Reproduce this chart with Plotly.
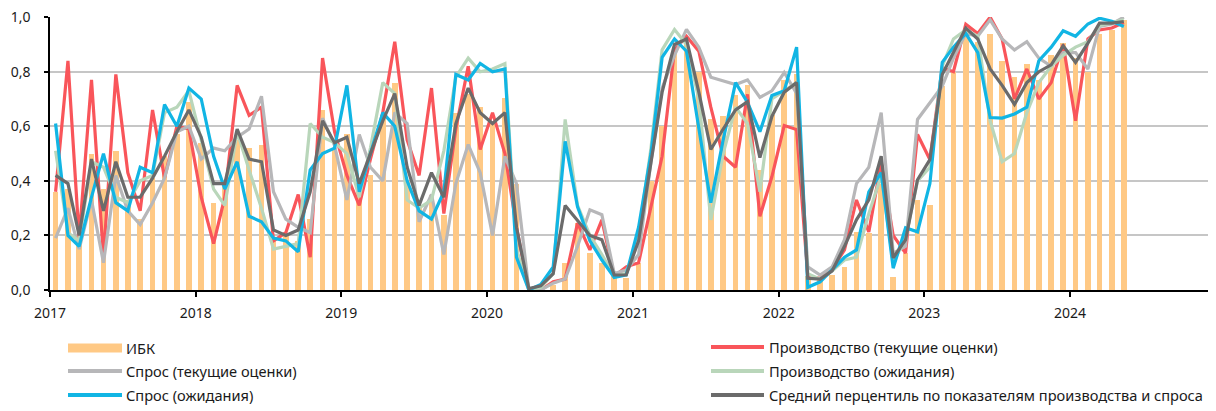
import pandas as pd
import plotly.graph_objects as go

# Monthly observations, Jan 2017 - May 2024
months = (pd.date_range("2017-01-01", periods=89, freq="MS") + pd.Timedelta(days=14)).strftime("%Y-%m-%d").tolist()

ibk = [0.36, 0.37, 0.20, 0.50, 0.37, 0.51, 0.33, 0.26, 0.41, 0.49, 0.57, 0.69,
       0.54, 0.32, 0.40, 0.55, 0.52, 0.53, 0.18, 0.20, 0.18, 0.26, 0.66, 0.52,
       0.57, 0.37, 0.42, 0.64, 0.76, 0.40, 0.30, 0.35, 0.276, 0.65, 0.72, 0.67,
       0.62, 0.705, 0.39, 0.00, 0.00, 0.02, 0.10, 0.245, 0.135, 0.10, 0.067, 0.044,
       0.10, 0.40, 0.60, 0.87, 0.90, 0.80, 0.625, 0.636, 0.713, 0.75, 0.44, 0.64,
       0.77, 0.79, 0.05, 0.04, 0.055, 0.085, 0.213, 0.21, 0.39, 0.048, 0.135, 0.33,
       0.31, 0.747, 0.80, 0.93, 0.91, 0.94, 0.84, 0.78, 0.83, 0.77, 0.86, 0.905,
       0.85, 0.80, 0.94, 0.953, 0.99]

prod_current = [0.36, 0.84, 0.19, 0.77, 0.12, 0.79, 0.43, 0.29, 0.66, 0.41, 0.60, 0.59,
                0.34, 0.17, 0.34, 0.75, 0.64, 0.67, 0.18, 0.21, 0.35, 0.12, 0.85, 0.58,
                0.42, 0.31, 0.48, 0.65, 0.91, 0.55, 0.42, 0.74, 0.28, 0.59, 0.82, 0.515,
                0.65, 0.50, 0.23, 0.00, 0.00, 0.03, 0.04, 0.245, 0.147, 0.257, 0.05, 0.085,
                0.10, 0.305, 0.49, 0.88, 0.93, 0.875, 0.67, 0.49, 0.45, 0.717, 0.27, 0.415,
                0.603, 0.588, 0.05, 0.043, 0.076, 0.147, 0.33, 0.213, 0.467, 0.20, 0.135, 0.57,
                0.478, 0.815, 0.80, 0.974, 0.94, 1.00, 0.92, 0.70, 0.81, 0.70, 0.76, 0.90,
                0.62, 0.92, 0.953, 0.96, 0.98]

demand_current = [0.19, 0.30, 0.15, 0.33, 0.10, 0.42, 0.29, 0.24, 0.32, 0.41, 0.58, 0.60,
                  0.48, 0.52, 0.51, 0.56, 0.59, 0.71, 0.36, 0.26, 0.23, 0.21, 0.63, 0.53,
                  0.33, 0.57, 0.45, 0.40, 0.65, 0.61, 0.25, 0.35, 0.13, 0.39, 0.533, 0.43,
                  0.20, 0.49, 0.39, 0.00, 0.00, 0.025, 0.04, 0.16, 0.294, 0.276, 0.06, 0.073,
                  0.13, 0.47, 0.74, 0.86, 0.955, 0.89, 0.78, 0.765, 0.753, 0.77, 0.706, 0.73,
                  0.797, 0.72, 0.085, 0.055, 0.085, 0.184, 0.39, 0.45, 0.65, 0.135, 0.16, 0.625,
                  0.687, 0.747, 0.85, 0.94, 0.93, 0.99, 0.92, 0.88, 0.91, 0.85, 0.82, 0.87,
                  0.87, 0.81, 0.966, 0.975, 1.00]

prod_expect = [0.51, 0.21, 0.18, 0.47, 0.45, 0.34, 0.32, 0.40, 0.42, 0.65, 0.67, 0.73,
               0.55, 0.37, 0.31, 0.58, 0.44, 0.30, 0.15, 0.16, 0.17, 0.61, 0.56, 0.54,
               0.50, 0.34, 0.52, 0.76, 0.72, 0.33, 0.30, 0.33, 0.51, 0.78, 0.85, 0.80,
               0.81, 0.83, 0.15, 0.00, 0.01, 0.06, 0.625, 0.31, 0.20, 0.13, 0.05, 0.06,
               0.20, 0.52, 0.88, 0.955, 0.90, 0.70, 0.257, 0.50, 0.67, 0.61, 0.36, 0.70,
               0.73, 0.76, 0.06, 0.04, 0.07, 0.11, 0.12, 0.28, 0.42, 0.10, 0.19, 0.40,
               0.45, 0.82, 0.92, 0.953, 0.93, 0.62, 0.47, 0.50, 0.65, 0.76, 0.82, 0.86,
               0.89, 0.91, 0.97, 0.98, 0.99]

demand_expect = [0.61, 0.20, 0.16, 0.34, 0.50, 0.32, 0.29, 0.45, 0.43, 0.68, 0.60, 0.74,
                 0.70, 0.49, 0.37, 0.47, 0.27, 0.25, 0.19, 0.18, 0.14, 0.44, 0.50, 0.52,
                 0.75, 0.36, 0.50, 0.65, 0.60, 0.40, 0.29, 0.26, 0.36, 0.79, 0.77, 0.83,
                 0.80, 0.81, 0.12, 0.00, 0.02, 0.085, 0.545, 0.305, 0.18, 0.11, 0.046, 0.055,
                 0.23, 0.50, 0.853, 0.92, 0.875, 0.59, 0.32, 0.55, 0.76, 0.687, 0.58, 0.713,
                 0.73, 0.89, 0.01, 0.03, 0.073, 0.12, 0.147, 0.36, 0.43, 0.08, 0.228, 0.213,
                 0.39, 0.834, 0.89, 0.94, 0.87, 0.632, 0.63, 0.645, 0.67, 0.84, 0.89, 0.95,
                 0.93, 0.975, 0.996, 0.985, 0.966]

avg_percentile = [0.42, 0.39, 0.20, 0.48, 0.29, 0.47, 0.34, 0.34, 0.41, 0.49, 0.58, 0.66,
                  0.56, 0.39, 0.39, 0.59, 0.48, 0.47, 0.22, 0.20, 0.22, 0.36, 0.62, 0.54,
                  0.56, 0.39, 0.50, 0.62, 0.72, 0.45, 0.31, 0.43, 0.34, 0.61, 0.74, 0.65,
                  0.61, 0.65, 0.23, 0.005, 0.015, 0.06, 0.31, 0.257, 0.20, 0.184, 0.055, 0.055,
                  0.18, 0.467, 0.725, 0.90, 0.92, 0.725, 0.515, 0.59, 0.66, 0.69, 0.485, 0.636,
                  0.725, 0.76, 0.043, 0.04, 0.07, 0.16, 0.257, 0.33, 0.49, 0.118, 0.184, 0.404,
                  0.478, 0.79, 0.87, 0.96, 0.92, 0.81, 0.75, 0.68, 0.76, 0.80, 0.825, 0.895,
                  0.834, 0.905, 0.978, 0.978, 0.984]

year_labels = ["2017", "2018", "2019", "2020", "2021", "2022", "2023", "2024"]
year_ticks = [y + "-01-01" for y in year_labels]
y_ticks = [0.0, 0.2, 0.4, 0.6, 0.8, 1.0]

C_BAR = "#FFC985"
C_RED = "#F9555A"
C_LGRAY = "#B7B7B9"
C_GREEN = "#B9D6BA"
C_BLUE = "#11B5E4"
C_DGRAY = "#6B6B6B"

FONT = "Noto Sans"
TXT = "#1A1A1A"

series = [
    ("Производство (текущие оценки)", prod_current, C_RED),
    ("Спрос (текущие оценки)", demand_current, C_LGRAY),
    ("Производство (ожидания)", prod_expect, C_GREEN),
    ("Спрос (ожидания)", demand_expect, C_BLUE),
    ("Средний перцентиль по показателям производства и спроса", avg_percentile, C_DGRAY),
]

fig = go.Figure()
fig.add_trace(go.Bar(x=months, y=ibk, name="ИБК", marker=dict(color=C_BAR, line=dict(width=0)),
                     width=14 * 86400000, showlegend=False))
for name, vals, col in series:
    fig.add_trace(go.Scatter(x=months, y=vals, name=name, mode="lines",
                             line=dict(color=col, width=3.2), showlegend=False))

# Manual legend (two columns); page pixel positions -> paper coordinates
OFF = 8  # page body offset
L, W = 50, 1166
B, H = 290, 273
def px(xp):
    return (xp - L) / W
def py(yp):
    return (B - yp) / H

legend_items = [
    ("ИБК", C_BAR, 9, 68, 122, 126, 348),
    ("Спрос (текущие оценки)", C_LGRAY, 4, 68, 122, 126, 371),
    ("Спрос (ожидания)", C_BLUE, 4, 68, 122, 126, 395),
    ("Производство (текущие оценки)", C_RED, 4, 711, 764, 769, 347),
    ("Производство (ожидания)", C_GREEN, 4, 711, 764, 769, 371),
    ("Средний перцентиль по показателям производства и спроса", C_DGRAY, 4, 711, 764, 769, 395),
]
for text, col, lw, x0, x1, xt, yy in legend_items:
    fig.add_shape(type="line", xref="paper", yref="paper", x0=px(x0), x1=px(x1),
                  y0=py(yy), y1=py(yy), line=dict(color=col, width=lw))
    fig.add_annotation(xref="paper", yref="paper", x=px(xt - 2), y=py(yy), text=text,
                       showarrow=False, xanchor="left", yanchor="middle",
                       font=dict(family=FONT, size=14.6, color=TXT))

fig.update_layout(
    width=1216 - OFF, height=411 - OFF,
    margin=dict(l=L - OFF, r=0, t=17 - OFF, b=121, autoexpand=False),
    paper_bgcolor="white", plot_bgcolor="white",
    separators=", ",
    bargap=0,
    showlegend=False,
    font=dict(family=FONT, size=14, color=TXT),
)
fig.update_xaxes(
    type="date", range=["2017-01-01", "2025-01-01"],
    tickvals=year_ticks, ticktext=year_labels,
    showgrid=False, showline=True, linecolor="black", linewidth=1.5,
    ticks="outside", ticklen=5, tickcolor="black", tickwidth=1.5,
    ticklabelstandoff=4, automargin=False, ticklabeloverflow="allow",
    tickfont=dict(family=FONT, size=14, color=TXT),
)
fig.update_yaxes(
    range=[0, 1.0005], tickvals=y_ticks, tickformat=".1f",
    showgrid=True, gridcolor="#C6C6C6", gridwidth=1.5,
    zeroline=False, showline=True, linecolor="black", linewidth=1.5,
    ticks="outside", ticklen=4, tickcolor="black", tickwidth=1.5,
    ticklabelstandoff=11, automargin=False, ticklabeloverflow="allow",
    tickfont=dict(family=FONT, size=14, color=TXT),
)

fig.write_html("out.html")
